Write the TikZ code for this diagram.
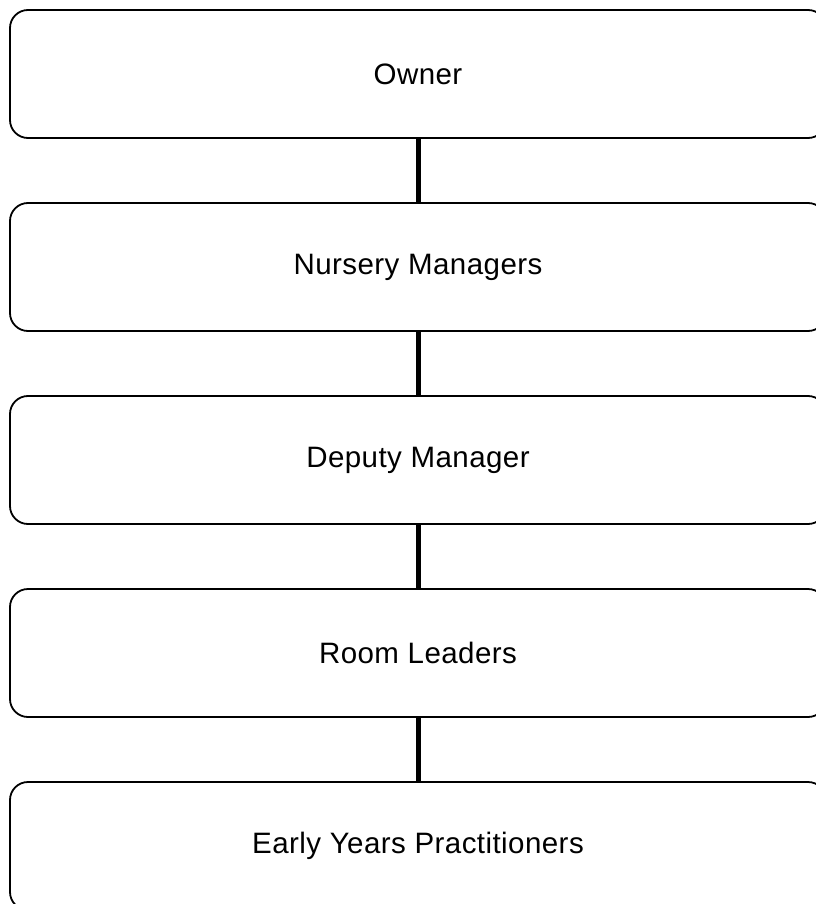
\documentclass[tikz,border=0pt]{standalone}
\usepackage{fontspec}
\setmainfont{Liberation Sans}[LetterSpace=1.5]
\begin{document}
\begin{tikzpicture}[x=1pt,y=-1pt,
  box/.style={draw=black,line width=1.8pt,rounded corners=18pt,minimum width=816pt,minimum height=128pt,inner sep=0pt,font=\fontsize{29.5}{34}\selectfont},
  link/.style={draw=black,line width=5pt}]
\useasboundingbox (0,0) rectangle (815,904);
\node[box] (b1) at (418,74) {Owner};
\node[box] (b2) at (418,267) {Nursery Managers};
\node[box] (b3) at (418,460) {Deputy Manager};
\node[box] (b4) at (418,653) {Room Leaders};
\node[box] (b5) at (418,846) {Early Years Practitioners};
\draw[link] (b1.south) -- (b2.north);
\draw[link] (b2.south) -- (b3.north);
\draw[link] (b3.south) -- (b4.north);
\draw[link] (b4.south) -- (b5.north);
\end{tikzpicture}
\end{document}
